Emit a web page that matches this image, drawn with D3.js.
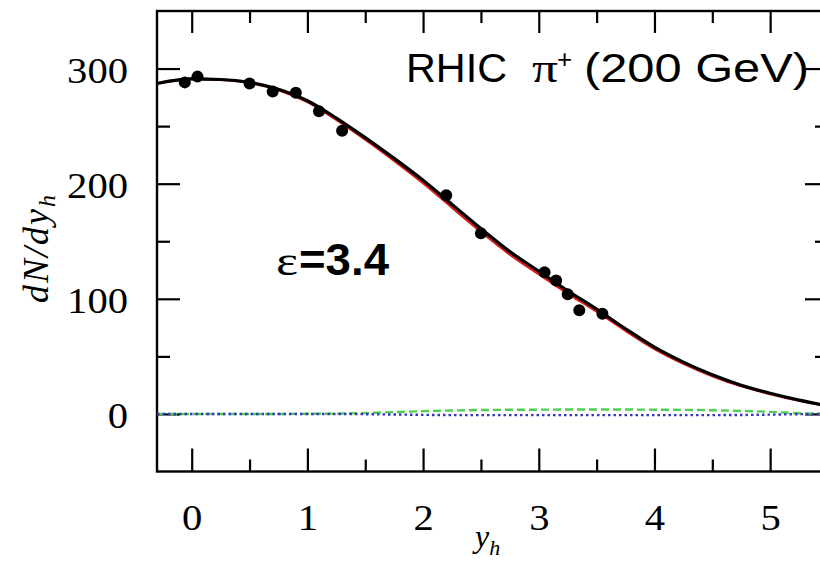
<!DOCTYPE html>
<html>
<head>
<meta charset="utf-8">
<script src="https://cdn.jsdelivr.net/npm/d3@7"></script>
<style>
html,body{margin:0;padding:0;background:#fff;overflow:hidden;}
svg{display:block;}
</style>
</head>
<body>
<svg id="chart" width="820" height="561"></svg>
<script>
// ---- data ----
const dataY = [-0.06, 0.05, 0.5, 0.7, 0.9, 1.1, 1.3, 2.2, 2.5, 3.05, 3.15, 3.25, 3.35, 3.55];
const dataN = [288, 293, 287, 280, 279, 263, 246, 190, 157, 123, 116, 104, 90, 87];

const curveY = [-0.3, 0, 0.25, 0.5, 0.75, 1, 1.25, 1.5, 1.75, 2, 2.25, 2.5, 2.75, 3, 3.25, 3.5, 3.75, 4, 4.25, 4.5, 4.75, 5, 5.25, 5.5];
const totalN = [287, 291, 290.5, 288, 282, 272, 257, 240, 222, 203, 182, 161, 141, 124, 107, 91, 74, 58, 45, 34, 25, 18, 12, 7];
const redN   = [287, 291, 290.3, 287.6, 281.4, 271, 255.6, 238.4, 220, 200.6, 179.4, 158.4, 138.6, 121.6, 104.8, 89, 72.4, 56.6, 43.8, 33, 24.2, 17.4, 11.6, 6.8];
const greenN = [0, 0, 0, 0, 0, 0.1, 0.3, 0.8, 1.6, 2.4, 3, 3.4, 3.6, 3.7, 3.8, 3.8, 3.8, 3.7, 3.5, 3.2, 2.6, 1.8, 0.6, 0];
const blueN  = [0, 0, 0, 0, 0, 0, 0, -0.2, -0.5, -0.8, -1, -1, -1, -1, -1, -1, -1, -1, -1, -1, -0.9, -0.6, -0.2, 0];

const xMajor = [0, 1, 2, 3, 4, 5];
const xMinor = [0.5, 1.5, 2.5, 3.5, 4.5];
const yMajor = [0, 100, 200, 300];
const yMinor = [50, 150, 250];

// ---- layout ----
const L = 157, R = 828, T = 11, B = 471.5;
const svg = d3.select("#chart");
const x = d3.scaleLinear().domain([-0.3, 5.5]).range([L, R]);
const y = d3.scaleLinear().domain([-50, 350]).range([B, T]);

const serif = "'Liberation Serif','Times New Roman',serif";
const sans = "'Liberation Sans',Arial,sans-serif";

function styleAxis(g){
  g.select(".domain").remove();
  g.selectAll("line").attr("stroke","#000").attr("stroke-width",2.2);
  g.selectAll("text").attr("font-family", serif).attr("font-size", 35).attr("fill","#000")
    .attr("textLength", function(){ return this.textContent.length * 20.3; })
    .attr("lengthAdjust","spacingAndGlyphs");
}

// bottom axis
svg.append("g").attr("transform",`translate(0,${B})`)
  .call(d3.axisBottom(x).tickValues(xMajor).tickSize(-23).tickFormat(d3.format("d")))
  .call(styleAxis)
  .call(g=>g.selectAll("text").attr("y",58).attr("dy",null));
svg.append("g").attr("transform",`translate(0,${B})`)
  .call(d3.axisBottom(x).tickValues(xMinor).tickSize(-12).tickFormat(""))
  .call(styleAxis);
// top axis
svg.append("g").attr("transform",`translate(0,${T})`)
  .call(d3.axisTop(x).tickValues(xMajor).tickSize(-22).tickFormat(""))
  .call(styleAxis);
svg.append("g").attr("transform",`translate(0,${T})`)
  .call(d3.axisTop(x).tickValues(xMinor).tickSize(-12).tickFormat(""))
  .call(styleAxis);
// left axis
svg.append("g").attr("transform",`translate(${L},0)`)
  .call(d3.axisLeft(y).tickValues(yMajor).tickSize(-23).tickFormat(d3.format("d")))
  .call(styleAxis)
  .call(g=>g.selectAll("text").attr("x",-29).attr("dy",null).attr("y",14));
svg.append("g").attr("transform",`translate(${L},0)`)
  .call(d3.axisLeft(y).tickValues(yMinor).tickSize(-13).tickFormat(""))
  .call(styleAxis);
// right axis
svg.append("g").attr("transform",`translate(${R},0)`)
  .call(d3.axisRight(y).tickValues(yMajor).tickSize(-23).tickFormat(""))
  .call(styleAxis);
svg.append("g").attr("transform",`translate(${R},0)`)
  .call(d3.axisRight(y).tickValues(yMinor).tickSize(-13).tickFormat(""))
  .call(styleAxis);

// frame
svg.append("rect").attr("x",L).attr("y",T).attr("width",R-L).attr("height",B-T)
  .attr("fill","none").attr("stroke","#000").attr("stroke-width",2.4);

// lines
const line = arr => d3.line().x((d,i)=>x(curveY[i])).y(d=>y(d)).curve(d3.curveMonotoneX)(arr);

svg.append("path").attr("d", line(greenN)).attr("fill","none")
  .attr("stroke","#4fcf4f").attr("stroke-width",2.4).attr("stroke-dasharray","8,4");
svg.append("path").attr("d", line(blueN)).attr("fill","none")
  .attr("stroke","#3535c0").attr("stroke-width",2.4).attr("stroke-dasharray","2.5,3");
svg.append("path").attr("d", line(redN)).attr("fill","none")
  .attr("stroke","#e01818").attr("stroke-width",2.6);
svg.append("path").attr("d", line(totalN)).attr("fill","none")
  .attr("stroke","#000").attr("stroke-width",3.2);

// data points
svg.append("g").selectAll("circle").data(dataY).join("circle")
  .attr("cx",(d)=>x(d)).attr("cy",(d,i)=>y(dataN[i])).attr("r",6).attr("fill","#000");

// annotations
const t1 = svg.append("g").attr("font-size",40).attr("fill","#000");
t1.append("text").attr("x",406).attr("y",82).attr("font-family",sans)
  .attr("textLength",101).attr("lengthAdjust","spacingAndGlyphs").text("RHIC");
t1.append("text").attr("x",532).attr("y",82).attr("font-family",serif).attr("font-size",40)
  .attr("textLength",26).attr("lengthAdjust","spacingAndGlyphs").text("\u03C0");
t1.append("text").attr("x",557).attr("y",68).attr("font-family",sans).attr("font-size",26).text("+");
t1.append("text").attr("x",584).attr("y",82).attr("font-family",sans)
  .attr("textLength",225).attr("lengthAdjust","spacingAndGlyphs").text("(200 GeV)");

const t2 = svg.append("g").attr("fill","#000");
t2.append("text").attr("x",276).attr("y",275).attr("font-family",serif).attr("font-size",42)
  .attr("textLength",22).attr("lengthAdjust","spacingAndGlyphs").text("\u03B5");
t2.append("text").attr("x",299).attr("y",275).attr("font-family",sans).attr("font-weight","bold")
  .attr("font-size",44).attr("textLength",90).attr("lengthAdjust","spacingAndGlyphs").text("=3.4");

// axis titles
const xt = svg.append("text").attr("x",475).attr("y",547).attr("font-family",serif)
  .attr("font-style","italic").attr("font-size",32).attr("fill","#000");
xt.append("tspan").text("y");
xt.append("tspan").attr("font-size",22).attr("dy",8).text("h");

const yt = svg.append("text").attr("transform","translate(48,303) rotate(-90)")
  .attr("font-family",serif).attr("font-style","italic").attr("font-size",36).attr("fill","#000");
yt.append("tspan").attr("letter-spacing",2).text("dN/dy");
yt.append("tspan").attr("font-size",24).attr("dy",7).text("h");
</script>
</body>
</html>
